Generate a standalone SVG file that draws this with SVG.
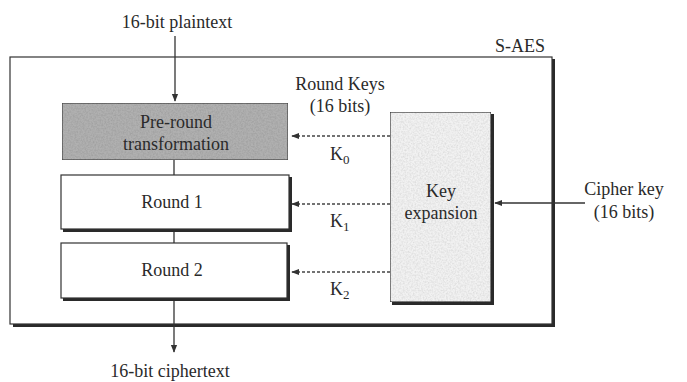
<svg xmlns="http://www.w3.org/2000/svg" width="687" height="382" viewBox="0 0 687 382">
<style>
text{font-family:"Liberation Serif","Times New Roman",serif;font-size:18px;fill:#2a2a2a}
.box{stroke:#333;stroke-width:1.2}
.shadow{fill:#2a2a2a}
.line{stroke:#333;stroke-width:1.3;fill:none}
.dash{stroke:#444;stroke-width:1.3;stroke-dasharray:3 2;fill:none}
</style>
<defs>
<marker id="ah" viewBox="0 0 10 10" refX="9" refY="5" markerWidth="8" markerHeight="8" orient="auto" markerUnits="userSpaceOnUse">
<path d="M0,1 L10,5 L0,9 z" fill="#333"/>
</marker>
<filter id="grain" x="0" y="0" width="100%" height="100%">
<feTurbulence type="fractalNoise" baseFrequency="0.6" numOctaves="2" seed="3" result="n"/>
<feColorMatrix in="n" type="matrix" values="0 0 0 0 0.6  0 0 0 0 0.6  0 0 0 0 0.6  0 0 0 -0.9 0.6" result="g"/>
<feComposite in="g" in2="SourceGraphic" operator="in" result="gi"/>
<feBlend in="SourceGraphic" in2="gi" mode="multiply"/>
</filter>
</defs>
<rect width="687" height="382" fill="#ffffff"/>

<g id="s-aes">
<rect x="13" y="59" width="542" height="268" class="shadow"/>
<rect x="10" y="57" width="542" height="267" fill="#ffffff" stroke="#333" stroke-width="1.2"/>
<text x="520" y="52" text-anchor="middle">S-AES</text>
</g>

<g id="connectors">
<line x1="175" y1="36" x2="175" y2="101" class="line" marker-end="url(#ah)"/>
<line x1="174" y1="160" x2="174" y2="175" class="line"/>
<line x1="174" y1="229" x2="174" y2="243" class="line"/>
<line x1="174" y1="298" x2="174" y2="352" class="line" marker-end="url(#ah)"/>
<line x1="390" y1="136" x2="292" y2="136" class="dash" marker-end="url(#ah)"/>
<line x1="390" y1="204" x2="292" y2="204" class="dash" marker-end="url(#ah)"/>
<line x1="390" y1="272" x2="292" y2="272" class="dash" marker-end="url(#ah)"/>
<line x1="585" y1="203" x2="495" y2="203" class="line" marker-end="url(#ah)"/>
<text x="340" y="90" text-anchor="middle">Round Keys</text>
<text x="340" y="112" text-anchor="middle">(16 bits)</text>
<text x="330" y="160">K<tspan font-size="13" dy="4">0</tspan></text>
<text x="330" y="227">K<tspan font-size="13" dy="4">1</tspan></text>
<text x="330" y="295">K<tspan font-size="13" dy="4">2</tspan></text>
</g>

<g id="plaintext">
<text x="177" y="28" text-anchor="middle">16-bit plaintext</text>
</g>

<g id="pre-round">
<rect x="62" y="103" width="226" height="57" fill="#b0b0b0" stroke="#444" stroke-width="1.2" filter="url(#grain)"/>
<text x="176" y="128" text-anchor="middle" fill="#333">Pre-round</text>
<text x="176" y="150" text-anchor="middle" fill="#333">transformation</text>
</g>

<g id="round1">
<rect x="63" y="177" width="229" height="55" class="shadow"/>
<rect x="61" y="175" width="228" height="54" fill="#ffffff" class="box"/>
<text x="172" y="208" text-anchor="middle">Round 1</text>
</g>

<g id="round2">
<rect x="63" y="245" width="227" height="56" class="shadow"/>
<rect x="61" y="243" width="226" height="55" fill="#ffffff" class="box"/>
<text x="172" y="276" text-anchor="middle">Round 2</text>
</g>

<g id="key-expansion">
<rect x="392" y="114" width="102" height="191" class="shadow"/>
<rect x="390" y="112" width="101" height="190" fill="#f2f2f2" class="box" filter="url(#grain)"/>
<text x="441" y="197" text-anchor="middle">Key</text>
<text x="441" y="219" text-anchor="middle">expansion</text>
</g>

<g id="cipher-key">
<text x="624" y="195" text-anchor="middle">Cipher key</text>
<text x="624" y="218" text-anchor="middle">(16 bits)</text>
</g>

<g id="ciphertext">
<text x="170" y="377" text-anchor="middle">16-bit ciphertext</text>
</g>
</svg>
